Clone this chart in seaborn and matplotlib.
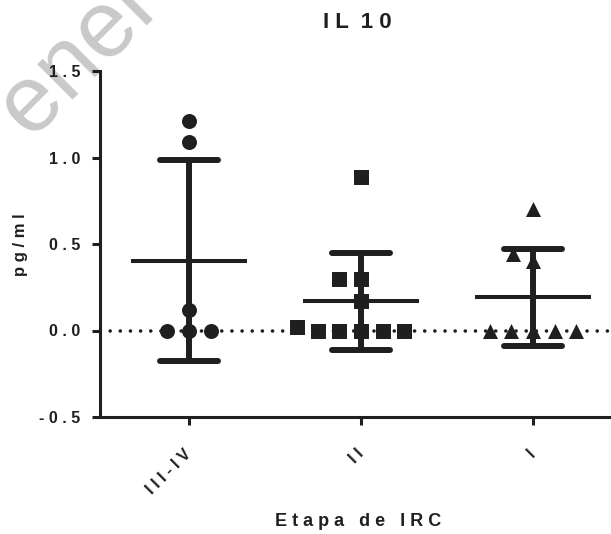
import matplotlib
matplotlib.use('Agg')
import matplotlib.pyplot as plt
import seaborn as sns
import pandas as pd

# values (pg/ml)
etapas = ['III-IV', 'II', 'I']
tick_labels = ['I I I - I V', 'I I', 'I']
vals_34 = [1.21, 1.09, 0.12, 0.0, 0.0, 0.0]
vals_2 = [0.89, 0.30, 0.30, 0.17, 0.02, 0.0, 0.0, 0.0, 0.0, 0.0]
vals_1 = [0.70, 0.44, 0.40, 0.0, 0.0, 0.0, 0.0, 0.0]
markers = ['o', 's', '^']
yticks = [-0.5, 0.0, 0.5, 1.0, 1.5]
ytick_labels = ['- 0 . 5', '0 . 0', '0 . 5', '1 . 0', '1 . 5']

ink = '#1f1f1f'


def main():
    sns.set_style('ticks')
    plt.rcParams['font.family'] = ['Liberation Sans', 'DejaVu Sans']
    plt.rcParams['font.weight'] = 'bold'

    df = pd.DataFrame({
        'etapa': ['III-IV'] * len(vals_34) + ['II'] * len(vals_2) + ['I'] * len(vals_1),
        'val': vals_34 + vals_2 + vals_1,
    })

    fig = plt.figure(figsize=(6.11, 5.34), dpi=100)
    ax = fig.add_axes([100 / 611, 1 - 417 / 534, 511 / 611, 346 / 534])
    ax.patch.set_alpha(0)

    # watermark in the top-left corner, behind everything
    fig.text(30 / 611, 1 - 138 / 534, 'ener', rotation=45, rotation_mode='anchor',
             ha='left', va='baseline', fontsize=68, color='#c9c9c9',
             fontweight='normal', zorder=-1)

    # dotted zero line
    ax.axhline(0, color=ink, lw=2.6, ls=(0, (0.01, 2.8)),
               dash_capstyle='round', zorder=1)

    # mean +/- SD
    sns.pointplot(data=df, x='etapa', y='val', order=etapas, errorbar='sd',
                  capsize=0.34, linestyle='none', marker='_', markersize=83,
                  markeredgewidth=2.9, color=ink, err_kws={'linewidth': 4.3},
                  ax=ax)

    # individual points, one marker per group
    for et, m in zip(etapas, markers):
        sub = df[df['etapa'] == et]
        sns.swarmplot(data=sub, x='etapa', y='val', order=etapas, marker=m,
                      size=10.8, color=ink, linewidth=4,
                      edgecolor=(0, 0, 0, 0), ax=ax, zorder=3)

    ax.set_xlim(-0.517, 2.453)
    ax.set_ylim(-0.5, 1.5)
    sns.despine(ax=ax)
    for s in ['left', 'bottom']:
        ax.spines[s].set_linewidth(2.2)
        ax.spines[s].set_color(ink)
    ax.tick_params(width=2.2, length=6, color=ink, labelcolor=ink)
    ax.tick_params(axis='y', pad=8, labelsize=11.5)
    ax.tick_params(axis='x', pad=19)

    ax.set_yticks(yticks, ytick_labels)
    ax.set_xticks(range(len(etapas)), tick_labels, rotation=45, ha='right',
                  va='center', rotation_mode='anchor', fontsize=11.5)
    ax.set_xlabel('')
    ax.set_ylabel('')

    fig.text(357 / 611, 1 - 22 / 534, 'I L  1 0', ha='center', va='center',
             fontsize=16, color=ink)
    fig.text(20 / 611, 1 - 245 / 534, 'p g / m l', rotation=90, ha='center',
             va='center', fontsize=12, color=ink)
    fig.text(358 / 611, 1 - 521 / 534, 'E t a p a   d e   I R C', ha='center',
             va='center', fontsize=13, color=ink)

    fig.savefig('out.png', dpi=100)


if __name__ == "__main__":
    main()
